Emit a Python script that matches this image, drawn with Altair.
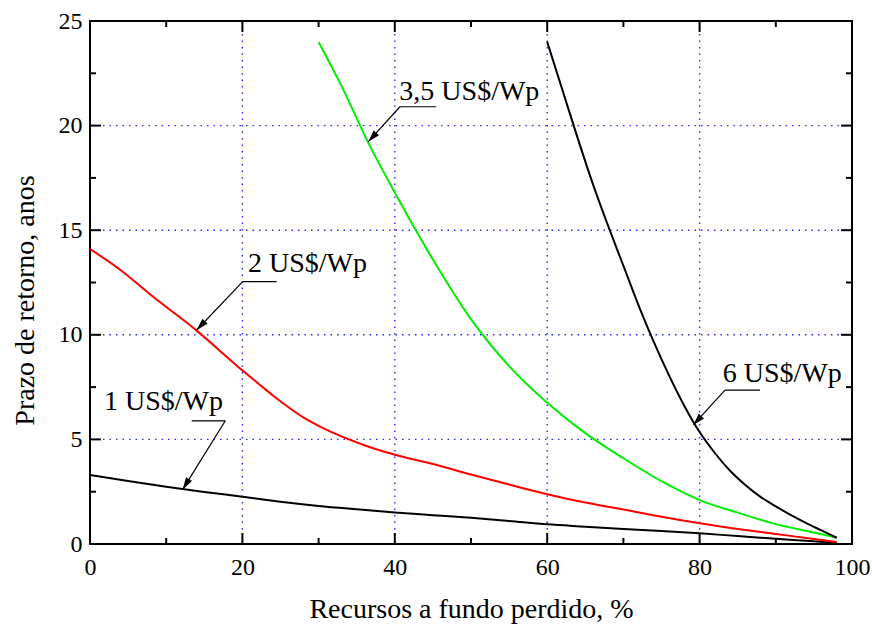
import altair as alt
import pandas as pd

# ---- data ----
x_1 = [0, 5, 10, 15, 20, 25, 30, 35, 40, 45, 50, 55, 60, 65, 70, 75, 80, 85, 90, 95, 98]
y_1 = [3.30, 3.01, 2.74, 2.49, 2.26, 2.02, 1.82, 1.66, 1.51, 1.38, 1.25, 1.10, 0.94, 0.83, 0.72, 0.62, 0.51, 0.38, 0.25, 0.13, 0.05]

x_2 = [0, 4, 8, 14, 20, 22, 24, 26, 28, 30, 32, 34, 36, 38, 40, 45, 50, 55, 60, 65, 70, 75, 80, 85, 90, 95, 98]
y_2 = [14.1, 13.1, 11.9, 10.2, 8.3, 7.7, 7.1, 6.55, 6.05, 5.65, 5.3, 5.0, 4.72, 4.48, 4.27, 3.82, 3.32, 2.84, 2.38, 1.98, 1.65, 1.30, 0.99, 0.72, 0.48, 0.24, 0.10]

x_35 = [30, 33, 36.5, 40, 45, 50, 55, 60, 65, 70, 75, 80, 85, 90, 95, 98]
y_35 = [24.0, 21.9, 19.2, 16.8, 13.6, 10.75, 8.5, 6.75, 5.3, 4.1, 3.0, 2.1, 1.5, 0.95, 0.55, 0.3]

x_6 = [60, 62, 64, 66, 68, 70, 72, 74, 76, 78, 80, 82, 84, 86, 88, 90, 92, 94, 96, 98]
y_6 = [24.0, 21.7, 19.4, 17.2, 15.2, 13.3, 11.4, 9.65, 8.05, 6.6, 5.35, 4.35, 3.5, 2.82, 2.25, 1.8, 1.38, 1.0, 0.65, 0.3]

series_names = ["1 US$/Wp", "2 US$/Wp", "3,5 US$/Wp", "6 US$/Wp"]
series_colors = ["#000000", "#ff0000", "#00ee00", "#000000"]

x_major = [0, 20, 40, 60, 80, 100]
x_minor = [10, 30, 50, 70, 90]
y_major = [0, 5, 10, 15, 20, 25]
y_minor = [2.5, 7.5, 12.5, 17.5, 22.5]
x_grid = [20, 40, 60, 80]
y_grid = [5, 10, 15, 20]

# annotation anchors (data coordinates)
ann_label = ["1 US$/Wp", "2 US$/Wp", "3,5 US$/Wp", "6 US$/Wp"]
ann_text_x = [1.84, 20.73, 40.6, 83.03]
ann_text_y = [6.41, 13.02, 21.22, 7.76]
ann_ul_x1 = [13.35, 20.04, 40.68, 83.33]
ann_ul_x2 = [17.76, 24.5, 45.41, 87.93]
ann_ul_y = [5.89, 12.54, 20.9, 7.36]
ann_from_x = [17.76, 20.04, 40.68, 83.33]
ann_tip_x = [12.17, 14.0, 36.52, 79.17]
ann_tip_y = [2.61, 10.23, 19.23, 5.69]
ann_angle = [211.7, 223.8, 222.4, 222.4]

W, H = 762, 523
FONT = "Times New Roman, Liberation Serif, Times, serif"

# ---- tables ----
rows = []
for name, xs_, ys_ in zip(series_names, [x_1, x_2, x_35, x_6], [y_1, y_2, y_35, y_6]):
    for i, (xv, yv) in enumerate(zip(xs_, ys_)):
        rows.append({"serie": name, "x": xv, "y": yv, "order": i})
curves = pd.DataFrame(rows)

ann = pd.DataFrame({
    "label": ann_label, "tx": ann_text_x, "ty": ann_text_y,
    "ux1": ann_ul_x1, "ux2": ann_ul_x2, "uy": ann_ul_y,
    "fx": ann_from_x, "px": ann_tip_x, "py": ann_tip_y, "angle": ann_angle,
})

xs = alt.Scale(domain=[0, 100], nice=False, zero=False)
ys = alt.Scale(domain=[0, 25], nice=False, zero=False)

# grid
grid_v = alt.Chart(pd.DataFrame({"x": x_grid})).mark_rule(
    color="#2a2aff", strokeWidth=1.4, strokeDash=[1.5, 5]
).encode(x=alt.X("x:Q", scale=xs))
grid_h = alt.Chart(pd.DataFrame({"y": y_grid})).mark_rule(
    color="#2a2aff", strokeWidth=1.4, strokeDash=[1.5, 5]
).encode(y=alt.Y("y:Q", scale=ys))

# curves with axes
lines = alt.Chart(curves).mark_line(strokeWidth=2, interpolate="monotone", clip=True).encode(
    x=alt.X("x:Q", scale=xs, axis=alt.Axis(
        values=x_major, grid=False, ticks=False, domain=False, labelFlush=False,
        labelFontSize=24, labelPadding=11, labelFont=FONT, labelColor="black",
        title="Recursos a fundo perdido, %", titleFont=FONT, titleFontSize=28,
        titleFontWeight="normal", titleColor="black",
        titleBaseline="alphabetic", titleY=73, titleX=W / 2, titleAlign="center",
    )),
    y=alt.Y("y:Q", scale=ys, axis=alt.Axis(
        values=y_major, grid=False, ticks=False, domain=False, labelFlush=False,
        labelFontSize=24, labelPadding=8, labelFont=FONT, labelColor="black",
        title="Prazo de retorno, anos", titleFont=FONT, titleFontSize=28,
        titleFontWeight="normal", titleColor="black", titleAngle=270,
        titleBaseline="alphabetic", titleX=-57, titleY=279, titleAlign="center",
    )),
    color=alt.Color("serie:N", scale=alt.Scale(domain=series_names, range=series_colors), legend=None),
    detail="serie:N",
    order="order:Q",
)

# inward ticks on all four sides
tick_layers = []
for vals, length in [(x_major, 11), (x_minor, 6)]:
    d = pd.DataFrame({"x": vals})
    tick_layers.append(alt.Chart(d).mark_rule(color="black", strokeWidth=2).encode(
        x=alt.X("x:Q", scale=xs), y=alt.value(H), y2=alt.value(H - length)))
    tick_layers.append(alt.Chart(d).mark_rule(color="black", strokeWidth=2).encode(
        x=alt.X("x:Q", scale=xs), y=alt.value(0), y2=alt.value(length)))
for vals, length in [(y_major, 11), (y_minor, 6)]:
    d = pd.DataFrame({"y": vals})
    tick_layers.append(alt.Chart(d).mark_rule(color="black", strokeWidth=2).encode(
        y=alt.Y("y:Q", scale=ys), x=alt.value(0), x2=alt.value(length)))
    tick_layers.append(alt.Chart(d).mark_rule(color="black", strokeWidth=2).encode(
        y=alt.Y("y:Q", scale=ys), x=alt.value(W), x2=alt.value(W - length)))

# annotations
ann_base = alt.Chart(ann)
ann_text = ann_base.mark_text(align="left", baseline="alphabetic", font=FONT, fontSize=28, color="black").encode(
    x=alt.X("tx:Q", scale=xs), y=alt.Y("ty:Q", scale=ys), text="label:N")
ann_ul = ann_base.mark_rule(color="black", strokeWidth=1.2).encode(
    x=alt.X("ux1:Q", scale=xs), x2="ux2:Q", y=alt.Y("uy:Q", scale=ys))
ann_arrow = ann_base.mark_rule(color="black", strokeWidth=1.2).encode(
    x=alt.X("fx:Q", scale=xs), x2="px:Q", y=alt.Y("uy:Q", scale=ys), y2="py:Q")
ann_head = ann_base.mark_point(
    shape="M0,0L-0.3,1L0.3,1Z", filled=True, color="black", opacity=1, size=576, strokeWidth=0
).encode(x=alt.X("px:Q", scale=xs), y=alt.Y("py:Q", scale=ys), angle=alt.Angle("angle:Q", scale=None))

chart = alt.layer(
    grid_v, grid_h, lines, *tick_layers, ann_ul, ann_arrow, ann_head, ann_text
).properties(
    width=W, height=H,
    autosize=alt.AutoSizeParams(type="none"),
    padding={"left": 90, "top": 21, "right": 20, "bottom": 84},
    background="white",
).configure_view(stroke="black", strokeWidth=2)

chart.save("out.html", embed_options={"renderer": "svg", "actions": False})
